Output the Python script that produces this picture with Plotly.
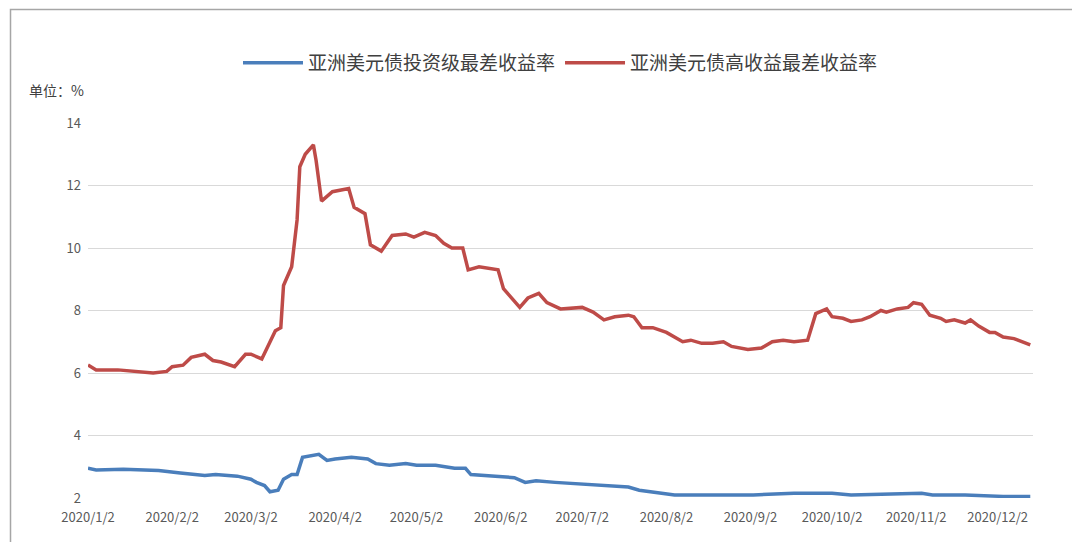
import plotly.graph_objs as go

red_dates = ["2020-01-02", "2020-01-05", "2020-01-13", "2020-01-20", "2020-01-26", "2020-01-31",
             "2020-02-02", "2020-02-06", "2020-02-09", "2020-02-14", "2020-02-17", "2020-02-20",
             "2020-02-25", "2020-02-29", "2020-03-02", "2020-03-06", "2020-03-09", "2020-03-11",
             "2020-03-13", "2020-03-14", "2020-03-17", "2020-03-19", "2020-03-20", "2020-03-22",
             "2020-03-25", "2020-03-26", "2020-03-28", "2020-04-01", "2020-04-07", "2020-04-09",
             "2020-04-13", "2020-04-15", "2020-04-19", "2020-04-23", "2020-04-28", "2020-05-01",
             "2020-05-05", "2020-05-09", "2020-05-12", "2020-05-15", "2020-05-19", "2020-05-21",
             "2020-05-25", "2020-05-29", "2020-06-01", "2020-06-03", "2020-06-09", "2020-06-12",
             "2020-06-16", "2020-06-19", "2020-06-24", "2020-07-02", "2020-07-06", "2020-07-10",
             "2020-07-14", "2020-07-19", "2020-07-21", "2020-07-24", "2020-07-28", "2020-08-02",
             "2020-08-08", "2020-08-11", "2020-08-15", "2020-08-19", "2020-08-23", "2020-08-26",
             "2020-09-01", "2020-09-06", "2020-09-10", "2020-09-14", "2020-09-18", "2020-09-23",
             "2020-09-26", "2020-09-30", "2020-10-02", "2020-10-06", "2020-10-09", "2020-10-13",
             "2020-10-16", "2020-10-20", "2020-10-22", "2020-10-26", "2020-10-30", "2020-11-01",
             "2020-11-04", "2020-11-07", "2020-11-11", "2020-11-13", "2020-11-16", "2020-11-20",
             "2020-11-22", "2020-11-25", "2020-11-29", "2020-12-01", "2020-12-04", "2020-12-08",
             "2020-12-11", "2020-12-14"]
red_values = [6.26, 6.1, 6.1, 6.05, 6.0, 6.05,
              6.2, 6.25, 6.5, 6.6, 6.4, 6.35,
              6.2, 6.6, 6.6, 6.45, 7.0, 7.35,
              7.45, 8.8, 9.4, 10.9, 12.6, 13.0,
              13.3, 12.8, 11.5, 11.8, 11.9, 11.3,
              11.1, 10.1, 9.9, 10.4, 10.45, 10.35,
              10.5, 10.4, 10.15, 10.0, 10.0, 9.3,
              9.4, 9.35, 9.3, 8.7, 8.1, 8.4,
              8.55, 8.25, 8.05, 8.1, 7.95, 7.7,
              7.8, 7.85, 7.8, 7.45, 7.45, 7.3,
              7.0, 7.05, 6.95, 6.95, 7.0, 6.85,
              6.75, 6.8, 7.0, 7.05, 7.0, 7.05,
              7.9, 8.05, 7.8, 7.75, 7.65, 7.7,
              7.8, 8.0, 7.95, 8.05, 8.1, 8.25,
              8.2, 7.85, 7.75, 7.65, 7.7, 7.6,
              7.7, 7.5, 7.3, 7.3, 7.15, 7.1,
              7.0, 6.9]

blue_dates = ["2020-01-02", "2020-01-05", "2020-01-15", "2020-01-28", "2020-02-05", "2020-02-14",
              "2020-02-18", "2020-02-26", "2020-03-02", "2020-03-04", "2020-03-07", "2020-03-09",
              "2020-03-12", "2020-03-14", "2020-03-17", "2020-03-19", "2020-03-21", "2020-03-25",
              "2020-03-27", "2020-03-30", "2020-04-02", "2020-04-08", "2020-04-14", "2020-04-17",
              "2020-04-22", "2020-04-28", "2020-05-02", "2020-05-09", "2020-05-16", "2020-05-20",
              "2020-05-22", "2020-05-31", "2020-06-07", "2020-06-11", "2020-06-15", "2020-06-22",
              "2020-07-02", "2020-07-13", "2020-07-19", "2020-07-23", "2020-07-28", "2020-08-01",
              "2020-08-05", "2020-08-12", "2020-08-23", "2020-09-03", "2020-09-18", "2020-10-02",
              "2020-10-09", "2020-10-28", "2020-11-04", "2020-11-08", "2020-11-20", "2020-12-04",
              "2020-12-14"]
blue_values = [2.95, 2.9, 2.92, 2.88, 2.8, 2.72,
               2.75, 2.7, 2.6, 2.5, 2.4, 2.2,
               2.25, 2.6, 2.75, 2.75, 3.3, 3.35,
               3.4, 3.2, 3.25, 3.3, 3.25, 3.1,
               3.05, 3.1, 3.05, 3.05, 2.95, 2.95,
               2.75, 2.7, 2.65, 2.5, 2.55, 2.5,
               2.45, 2.4, 2.35, 2.25, 2.2, 2.15,
               2.1, 2.1, 2.1, 2.1, 2.15, 2.15,
               2.1, 2.15, 2.15, 2.1, 2.1, 2.05,
               2.05]

tick_dates = ["2020-01-02", "2020-02-02", "2020-03-02", "2020-04-02", "2020-05-02", "2020-06-02",
              "2020-07-02", "2020-08-02", "2020-09-02", "2020-10-02", "2020-11-02", "2020-12-02"]
tick_labels = ["2020/1/2", "2020/2/2", "2020/3/2", "2020/4/2", "2020/5/2", "2020/6/2",
               "2020/7/2", "2020/8/2", "2020/9/2", "2020/10/2", "2020/11/2", "2020/12/2"]

font = "Noto Sans CJK SC"

fig = go.Figure()
fig.add_trace(go.Scatter(x=blue_dates, y=blue_values, mode="lines", name="亚洲美元债投资级最差收益率",
                         line=dict(color="#4a7ebb", width=3.5)))
fig.add_trace(go.Scatter(x=red_dates, y=red_values, mode="lines", name="亚洲美元债高收益最差收益率",
                         line=dict(color="#be4b48", width=3.5)))

fig.update_layout(
    width=1080, height=542,
    template="plotly_white",
    font=dict(family=font, color="#595959", size=13),
    margin=dict(l=80, r=55, t=115, b=52, autoexpand=False),
    legend=dict(orientation="h", x=0.5, xanchor="center", y=1.16, yanchor="middle",
                font=dict(size=19, color="#404040"), itemwidth=60),
    xaxis=dict(range=["2020-01-02", "2020-12-15"], tickvals=tick_dates, ticktext=tick_labels,
               showgrid=False, showline=False, zeroline=False, ticks="", automargin=False,
               ticklabelstandoff=10),
    yaxis=dict(range=[2, 14], dtick=2, gridcolor="#d9d9d9", zeroline=False, showline=False,
               ticks="", tickfont=dict(size=13), automargin=False, ticklabelstandoff=6),
    annotations=[dict(x=-0.065, y=1.12, xref="paper", yref="paper", text="单位：%",
                      showarrow=False, xanchor="left", font=dict(size=14, color="#404040"))],
    shapes=[dict(type="rect", xref="paper", yref="paper", x0=-0.082, x1=1.055, y0=-0.135, y1=1.303,
                 line=dict(color="#a6a6a6", width=1.5))],
)

fig.write_html("out.html")
